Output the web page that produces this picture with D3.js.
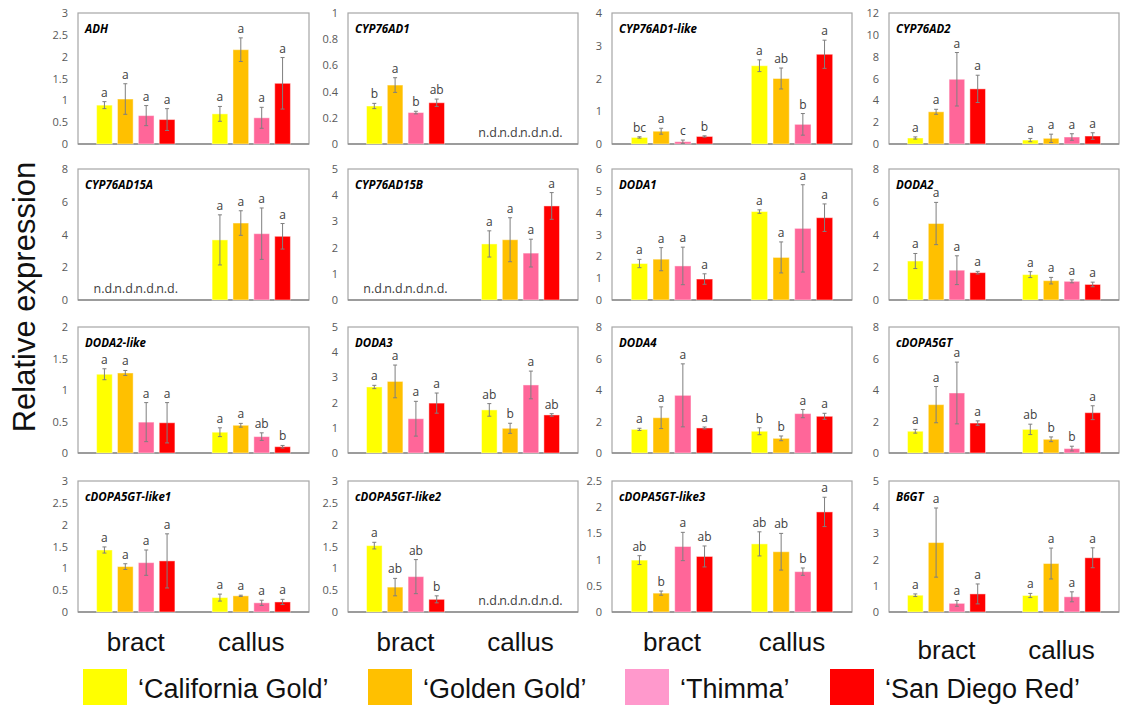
<!DOCTYPE html>
<meta charset="utf-8">
<head>
    <title>Relative expression of betalain genes</title>
</head>
<script src="https://d3js.org/d3.v7.min.js"></script>
<style>
    body { margin: 0; background: #fff; }
    .tick text { font-family: "Open Sans", sans-serif; font-size: 11px; fill: #595959; }
    .box { fill: none; stroke: #a6a6a6; stroke-width: 1.2px; }
    .base { stroke: #8c8c8c; stroke-width: 1.5px; }
    .err { stroke: #7f7f7f; stroke-width: 1px; }
    .gene { font-family: "Open Sans", sans-serif; font-size: 11.5px; font-weight: bold; font-style: italic; }
    .sig { font-family: "Open Sans", sans-serif; font-size: 12px; fill: #404040; text-anchor: middle; }
    .nd { font-family: "Open Sans", sans-serif; font-size: 12.5px; fill: #404040; text-anchor: middle; }
    .big { font-family: "Liberation Sans", Arial, sans-serif; fill: #111; }
</style>
<div id="viz"></div>
<script>

// ---- data ----
var genes = ['ADH', 'CYP76AD1', 'CYP76AD1-like', 'CYP76AD2',
             'CYP76AD15A', 'CYP76AD15B', 'DODA1', 'DODA2',
             'DODA2-like', 'DODA3', 'DODA4', 'cDOPA5GT',
             'cDOPA5GT-like1', 'cDOPA5GT-like2', 'cDOPA5GT-like3', 'B6GT'];
var yMax  = [3, 1, 4, 12, 8, 5, 6, 8, 2, 5, 8, 8, 3, 3, 2.5, 5];
var yStep = [0.5, 0.2, 1, 2, 2, 1, 1, 2, 0.5, 1, 2, 2, 0.5, 0.5, 0.5, 1];
var tissues = ['bract', 'callus'];
var cultivars = ['\u2018California Gold\u2019', '\u2018Golden Gold\u2019', '\u2018Thimma\u2019', '\u2018San Diego Red\u2019'];

// means per gene: [bract x4, callus x4], null = not detected
var means = [
    [[0.89, 1.03, 0.65, 0.56], [0.69, 2.16, 0.60, 1.39]],
    [[0.29, 0.45, 0.24, 0.315], null],
    [[0.20, 0.39, 0.07, 0.23], [2.39, 2.00, 0.60, 2.74]],
    [[0.55, 2.95, 5.93, 5.05], [0.36, 0.52, 0.64, 0.73]],
    [null, [3.67, 4.70, 4.05, 3.89]],
    [null, [2.14, 2.30, 1.79, 3.59]],
    [[1.67, 1.87, 1.56, 0.96], [4.05, 1.95, 3.28, 3.77]],
    [[2.38, 4.67, 1.82, 1.67], [1.55, 1.18, 1.14, 0.95]],
    [[1.25, 1.27, 0.49, 0.48], [0.33, 0.44, 0.26, 0.10]],
    [[2.62, 2.84, 1.36, 1.98], [1.71, 0.98, 2.70, 1.51]],
    [[1.50, 2.24, 3.66, 1.59], [1.38, 0.93, 2.50, 2.33]],
    [[1.38, 3.07, 3.81, 1.90], [1.50, 0.87, 0.28, 2.56]],
    [[1.42, 1.04, 1.13, 1.17], [0.33, 0.37, 0.21, 0.23]],
    [[1.52, 0.57, 0.81, 0.29], null],
    [[0.99, 0.36, 1.25, 1.06], [1.30, 1.15, 0.77, 1.91]],
    [[0.64, 2.65, 0.33, 0.69], [0.63, 1.85, 0.58, 2.07]]
];
var errs = [
    [[0.08, 0.35, 0.23, 0.25], [0.17, 0.27, 0.24, 0.59]],
    [[0.02, 0.056, 0.01, 0.028], null],
    [[0.02, 0.09, 0.05, 0.02], [0.18, 0.32, 0.33, 0.43]],
    [[0.1, 0.23, 2.45, 1.25], [0.15, 0.38, 0.3, 0.3]],
    [null, [1.53, 0.75, 1.57, 0.78]],
    [null, [0.5, 0.84, 0.53, 0.51]],
    [[0.19, 0.53, 0.86, 0.24], [0.08, 0.71, 2.0, 0.63]],
    [[0.46, 1.29, 0.88, 0.08], [0.18, 0.2, 0.09, 0.14]],
    [[0.087, 0.04, 0.31, 0.32], [0.07, 0.03, 0.06, 0.02]],
    [[0.065, 0.65, 0.69, 0.4], [0.25, 0.2, 0.55, 0.05]],
    [[0.07, 0.69, 2.0, 0.06], [0.22, 0.15, 0.26, 0.19]],
    [[0.12, 1.15, 1.96, 0.14], [0.33, 0.15, 0.15, 0.44]],
    [[0.07, 0.065, 0.29, 0.62], [0.08, 0.015, 0.06, 0.06]],
    [[0.076, 0.2, 0.39, 0.08], null],
    [[0.085, 0.04, 0.27, 0.2], [0.23, 0.35, 0.07, 0.28]],
    [[0.05, 1.32, 0.11, 0.38], [0.08, 0.59, 0.19, 0.38]]
];
var letters = [
    [['a', 'a', 'a', 'a'], ['a', 'a', 'a', 'a']],
    [['b', 'a', 'b', 'ab'], null],
    [['bc', 'a', 'c', 'b'], ['a', 'ab', 'b', 'a']],
    [['a', 'a', 'a', 'a'], ['a', 'a', 'a', 'a']],
    [null, ['a', 'a', 'a', 'a']],
    [null, ['a', 'a', 'a', 'a']],
    [['a', 'a', 'a', 'a'], ['a', 'a', 'a', 'a']],
    [['a', 'a', 'a', 'a'], ['a', 'a', 'a', 'a']],
    [['a', 'a', 'a', 'a'], ['a', 'a', 'ab', 'b']],
    [['a', 'a', 'a', 'a'], ['ab', 'b', 'a', 'ab']],
    [['a', 'a', 'a', 'a'], ['b', 'b', 'a', 'a']],
    [['a', 'a', 'a', 'a'], ['ab', 'b', 'b', 'a']],
    [['a', 'a', 'a', 'a'], ['a', 'a', 'a', 'a']],
    [['a', 'ab', 'ab', 'b'], null],
    [['ab', 'b', 'a', 'ab'], ['ab', 'ab', 'b', 'a']],
    [['a', 'a', 'a', 'a'], ['a', 'a', 'a', 'a']]
];

// ---- styles / layout ----
var barColors    = ['#ffff00', '#ffc000', '#ff6699', '#ff0000'];
var legendColors = ['#ffff00', '#ffc000', '#ff99cc', '#ff0000'];
var colX = [[78, 309], [348, 578], [612, 852], [889, 1119]];
var rowY = [[13, 144], [169, 300], [327, 453], [481, 612]];

var svg = d3.select('#viz')
    .append('svg')
        .attr('width', 1121)
        .attr('height', 711);

var fmt = function(d) { return String(+d.toFixed(2)); };

genes.forEach(function(gene, gi) {
    var c = gi % 4, r = Math.floor(gi / 4);
    var x0 = colX[c][0], x1 = colX[c][1];
    var top = rowY[r][0], bottom = rowY[r][1];

    var xg = d3.scaleBand().domain(tissues).range([x0, x1])
        .paddingInner(0.322).paddingOuter(0.161);
    var xb = d3.scaleBand().domain(d3.range(4)).range([0, xg.bandwidth()])
        .paddingInner(0.25).paddingOuter(0);
    var y = d3.scaleLinear().domain([0, yMax[gi]]).range([bottom, top]);

    var g = svg.append('g');

    g.append('rect')
        .attr('class', 'box')
        .attr('x', x0).attr('y', top)
        .attr('width', x1 - x0).attr('height', bottom - top);

    var ax = g.append('g')
        .attr('transform', 'translate(' + x0 + ',0)')
        .call(d3.axisLeft(y)
            .tickValues(d3.range(0, yMax[gi] + yStep[gi] / 2, yStep[gi]))
            .tickSize(0).tickPadding(10).tickFormat(fmt));
    ax.select('.domain').remove();

    g.append('line')
        .attr('class', 'base')
        .attr('x1', x0).attr('x2', x1)
        .attr('y1', y(0)).attr('y2', y(0));

    g.append('text')
        .attr('class', 'gene')
        .attr('x', x0 + 7)
        .attr('y', top + 20)
        .text(gene);

    tissues.forEach(function(t, ti) {
        var m = means[gi][ti];
        var cx = function(k) { return xg(t) + xb(k) + xb.bandwidth() / 2; };
        if (m === null) {
            g.selectAll(null)
                .data(d3.range(4))
                .enter()
                .append('text')
                .attr('class', 'nd')
                .attr('x', function(k) { return cx(k); })
                .attr('y', y(0) - 7)
                .text('n.d.');
            return;
        }
        var e = errs[gi][ti], L = letters[gi][ti];
        var rows = m.map(function(v, k) { return {k: k, v: v, e: e[k], s: L[k]}; });

        g.selectAll(null)
            .data(rows)
            .enter()
            .append('rect')
            .attr('x', function(d) { return xg(t) + xb(d.k); })
            .attr('y', function(d) { return y(d.v); })
            .attr('width', xb.bandwidth())
            .attr('height', function(d) { return y(0) - y(d.v); })
            .attr('fill', function(d) { return barColors[d.k]; })
            .attr('stroke', 'rgba(255,255,255,0.45)')
            .attr('stroke-width', 1);

        var eb = g.selectAll(null).data(rows).enter().append('g');
        eb.append('line')
            .attr('class', 'err')
            .attr('x1', function(d) { return cx(d.k); })
            .attr('x2', function(d) { return cx(d.k); })
            .attr('y1', function(d) { return y(d.v - d.e); })
            .attr('y2', function(d) { return y(d.v + d.e); });
        [-1, 1].forEach(function(sgn) {
            eb.append('line')
                .attr('class', 'err')
                .attr('x1', function(d) { return cx(d.k) - 2; })
                .attr('x2', function(d) { return cx(d.k) + 2; })
                .attr('y1', function(d) { return y(d.v + sgn * d.e); })
                .attr('y2', function(d) { return y(d.v + sgn * d.e); });
        });
        eb.append('text')
            .attr('class', 'sig')
            .attr('x', function(d) { return cx(d.k); })
            .attr('y', function(d) { return y(d.v + d.e) - 5; })
            .text(function(d) { return d.s; });
    });

    // tissue labels under the bottom row
    if (r === 3) {
        tissues.forEach(function(t) {
            svg.append('text')
                .attr('class', 'big')
                .attr('x', xg(t) + xg.bandwidth() / 2)
                .attr('y', c === 3 ? 659 : 651)
                .attr('text-anchor', 'middle')
                .style('font-size', '26px')
                .text(t);
        });
    }
});

svg.append('text')
    .attr('class', 'big')
    .attr('transform', 'translate(35,297)rotate(-90)')
    .attr('text-anchor', 'middle')
    .style('font-size', '31px')
    .text('Relative expression');

// legend
var legX = [83, 368, 625, 830];
var leg = svg.selectAll('.leg')
    .data(cultivars)
    .enter()
    .append('g')
    .attr('class', 'leg')
    .attr('transform', function(d, i) { return 'translate(' + legX[i] + ',669)'; });
leg.append('rect')
    .attr('width', 44).attr('height', 36)
    .attr('fill', function(d, i) { return legendColors[i]; });
leg.append('text')
    .attr('class', 'big')
    .attr('x', 55).attr('y', 29)
    .style('font-size', '27px')
    .text(function(d) { return d; });

</script>
